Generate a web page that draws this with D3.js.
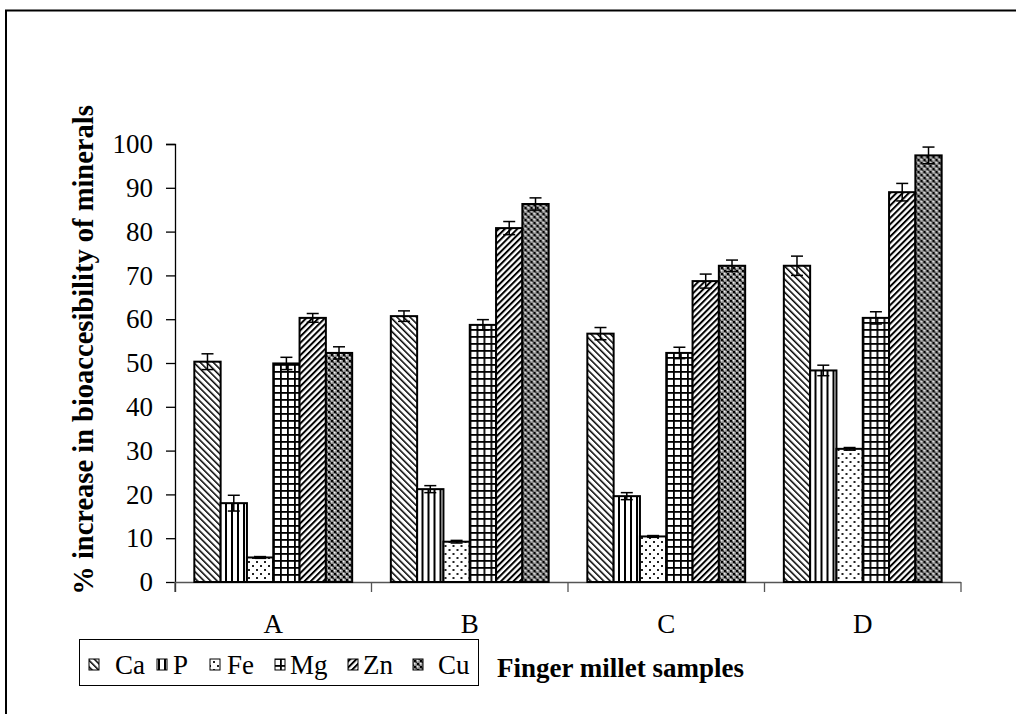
<!DOCTYPE html>
<html>
<head>
<meta charset="utf-8">
<script src="https://cdn.jsdelivr.net/npm/d3@7"></script>
<style>
  html, body { margin: 0; padding: 0; background: #fff; }
  svg { display: block; }
  svg text { font-family: "Liberation Serif", "Times New Roman", "DejaVu Serif", serif; fill: #000; }
</style>
</head>
<body>
<svg id="chart" width="1016" height="714"></svg>
<script>
// ---- data ----
const categories = ["A", "B", "C", "D"];
const series = ["Ca", "P", "Fe", "Mg", "Zn", "Cu"];
const valuesCa = [50.3, 60.7, 56.7, 72.2];
const valuesP  = [18.0, 21.2, 19.6, 48.3];
const valuesFe = [5.6, 9.2, 10.4, 30.4];
const valuesMg = [49.9, 58.7, 52.3, 60.3];
const valuesZn = [60.3, 80.8, 68.7, 89.0];
const valuesCu = [52.3, 86.3, 72.2, 97.4];
const errCa = [1.8, 1.2, 1.4, 2.2];
const errP  = [1.8, 0.8, 0.8, 1.2];
const errFe = [0.2, 0.3, 0.2, 0.3];
const errMg = [1.4, 1.2, 1.3, 1.4];
const errZn = [1.0, 1.5, 1.6, 2.0];
const errCu = [1.4, 1.4, 1.3, 1.9];
const yTicks = [0, 10, 20, 30, 40, 50, 60, 70, 80, 90, 100];
const yTitle = "% increase in bioaccesibility of minerals";
const xTitle = "Finger millet samples";

const valueTable = { Ca: valuesCa, P: valuesP, Fe: valuesFe, Mg: valuesMg, Zn: valuesZn, Cu: valuesCu };
const errTable = { Ca: errCa, P: errP, Fe: errFe, Mg: errMg, Zn: errZn, Cu: errCu };

const FONT = "'Liberation Serif', 'Times New Roman', 'DejaVu Serif', serif";
const svg = d3.select("#chart");

// ---- patterns ----
const defs = svg.append("defs");
function pat(id, w, h, transform) {
  const p = defs.append("pattern").attr("id", id).attr("patternUnits", "userSpaceOnUse")
    .attr("width", w).attr("height", h);
  if (transform) p.attr("patternTransform", transform);
  p.append("rect").attr("width", w).attr("height", h).attr("fill", "#fff");
  return p;
}
// Ca: "\\\" thin diagonals
let p = pat("pCa", 4.6, 4.6, "rotate(-45)");
p.append("rect").attr("x", 0).attr("y", 0).attr("width", 1.5).attr("height", 4.6).attr("fill", "#000");
// P: vertical lines
p = pat("pP", 6, 6);
p.append("rect").attr("x", 2).attr("y", 0).attr("width", 2).attr("height", 6).attr("fill", "#000");
// Fe: sparse dots
p = pat("pFe", 8, 8);
p.append("rect").attr("x", 1).attr("y", 1).attr("width", 2).attr("height", 2).attr("fill", "#222");
p.append("rect").attr("x", 5).attr("y", 5).attr("width", 2).attr("height", 2).attr("fill", "#222");
// Mg: grid
p = pat("pMg", 7, 7);
p.append("rect").attr("x", 0).attr("y", 0).attr("width", 7).attr("height", 1.8).attr("fill", "#000");
p.append("rect").attr("x", 0).attr("y", 0).attr("width", 1.8).attr("height", 7).attr("fill", "#000");
// Zn: "///" thicker diagonals
p = pat("pZn", 4.4, 4.4, "rotate(45)");
p.append("rect").attr("x", 0).attr("y", 0).attr("width", 2).attr("height", 4.4).attr("fill", "#000");
// Cu: dark checker/diamond
p = pat("pCu", 6, 6);
p.select("rect").attr("fill", "#8a8a8a");
p.append("rect").attr("x", 0).attr("y", 0).attr("width", 2).attr("height", 2).attr("fill", "#000");
p.append("rect").attr("x", 3).attr("y", 3).attr("width", 2).attr("height", 2).attr("fill", "#000");
p.append("rect").attr("x", 3).attr("y", 0).attr("width", 1.5).attr("height", 1.5).attr("fill", "#eee");
p.append("rect").attr("x", 0).attr("y", 3).attr("width", 1.5).attr("height", 1.5).attr("fill", "#eee");
p.append("rect").attr("x", 1.5).attr("y", 1.5).attr("width", 1.5).attr("height", 1.5).attr("fill", "#333");
p.append("rect").attr("x", 4.5).attr("y", 4.5).attr("width", 1.5).attr("height", 1.5).attr("fill", "#333");

const fillOf = s => `url(#p${s})`;

// ---- outer frame ----
svg.append("path").attr("d", "M6,714 V10.5 H1016").attr("fill", "none").attr("stroke", "#000").attr("stroke-width", 2);

// ---- scales ----
const x = d3.scaleBand().domain(categories).range([175, 961]).padding(0);
const x1 = d3.scaleBand().domain(series).range([0, x.bandwidth()]).paddingInner(0).paddingOuter(0.735);
const y = d3.scaleLinear().domain([0, 100]).range([582, 144]);

// ---- y axis ----
const yAxis = svg.append("g").attr("transform", "translate(175,0)")
  .call(d3.axisLeft(y).tickValues(yTicks).tickSize(9).tickPadding(13).tickFormat(d3.format("d")));
yAxis.attr("font-family", FONT).attr("font-size", 27);
yAxis.select(".domain").attr("stroke", "#000").attr("stroke-width", 1.3).attr("d", "M-9,144.5H0.5V592");
yAxis.selectAll(".tick line").attr("stroke", "#000").attr("stroke-width", 1.3);
yAxis.selectAll(".tick text").attr("font-family", FONT).attr("font-size", 27).attr("fill", "#000");

// ---- x axis ----
const xAxisG = svg.append("g").attr("transform", "translate(0,582)");
xAxisG.append("line").attr("x1", 175).attr("x2", 961).attr("y1", 0.5).attr("y2", 0.5)
  .attr("stroke", "#555").attr("stroke-width", 1.3);
const boundaries = categories.map(c => x(c)).concat([x(categories[categories.length - 1]) + x.bandwidth()]);
xAxisG.selectAll("line.tk").data(boundaries).enter().append("line").attr("class", "tk")
  .attr("x1", d => d).attr("x2", d => d).attr("y1", 0).attr("y2", 10)
  .attr("stroke", "#555").attr("stroke-width", 1.3);
xAxisG.selectAll("text.cat").data(categories).enter().append("text").attr("class", "cat")
  .attr("x", d => x(d) + x.bandwidth() / 2).attr("y", 51)
  .attr("text-anchor", "middle").attr("font-family", FONT).attr("font-size", 27).text(d => d);

// ---- bars ----
const groups = svg.append("g").selectAll("g").data(categories).enter().append("g")
  .attr("transform", d => `translate(${x(d)},0)`);
groups.each(function (cat, ci) {
  const g = d3.select(this);
  series.forEach(s => {
    const v = valueTable[s][ci];
    g.append("rect")
      .attr("x", x1(s)).attr("y", y(v)).attr("width", x1.bandwidth()).attr("height", y(0) - y(v))
      .attr("fill", fillOf(s)).attr("stroke", "#000").attr("stroke-width", 2);
  });
  series.forEach(s => {
    const v = valueTable[s][ci], e = errTable[s][ci];
    const cx = x1(s) + x1.bandwidth() / 2;
    const eg = g.append("g").attr("stroke", "#000").attr("stroke-width", 1.5);
    eg.append("line").attr("x1", cx).attr("x2", cx).attr("y1", y(v + e)).attr("y2", y(v - e));
    eg.append("line").attr("x1", cx - 6).attr("x2", cx + 6).attr("y1", y(v + e)).attr("y2", y(v + e));
    eg.append("line").attr("x1", cx - 6).attr("x2", cx + 6).attr("y1", y(v - e)).attr("y2", y(v - e));
  });
});

// ---- y title ----
svg.append("text").attr("transform", "translate(93,350) rotate(-90)")
  .attr("text-anchor", "middle").attr("font-family", FONT).attr("font-weight", "bold")
  .attr("font-size", 28.5).text(yTitle);

// ---- legend ----
svg.append("rect").attr("x", 79.5).attr("y", 639.5).attr("width", 399).attr("height", 46)
  .attr("fill", "#fff").attr("stroke", "#000").attr("stroke-width", 1);
const legendX = [89, 157, 210, 275, 348, 413];
const legendTextX = [115, 173, 227, 290, 363, 438];
series.forEach((s, i) => {
  svg.append("rect").attr("x", legendX[i]).attr("y", 659).attr("width", 10).attr("height", 11)
    .attr("fill", fillOf(s)).attr("stroke", "#000").attr("stroke-width", 1);
  svg.append("text").attr("x", legendTextX[i]).attr("y", 674)
    .attr("font-family", FONT).attr("font-size", 27).text(s);
});

// ---- x title ----
svg.append("text").attr("x", 497).attr("y", 677).attr("font-family", FONT)
  .attr("font-weight", "bold").attr("font-size", 27).text(xTitle);
</script>
</body>
</html>
